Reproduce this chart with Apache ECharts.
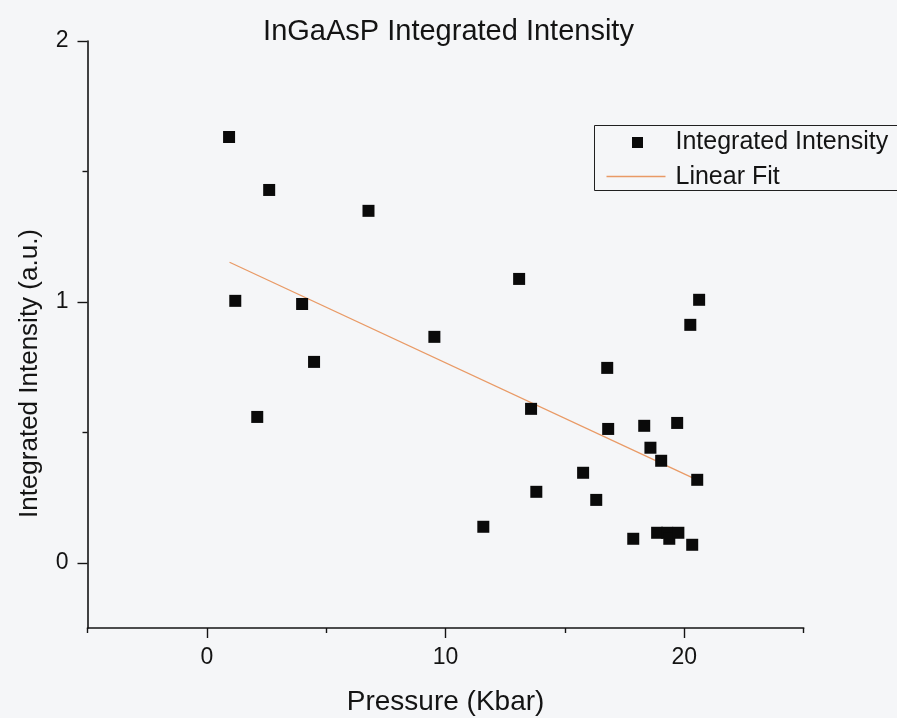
<!DOCTYPE html>
<html>
<head>
<meta charset="utf-8">
<title>InGaAsP Integrated Intensity</title>
<script src="https://cdn.jsdelivr.net/npm/echarts@6/dist/echarts.min.js"></script>
<style>
  html, body { margin: 0; padding: 0; background: #f5f6f8; }
  #chart { width: 897px; height: 718px; }
</style>
</head>
<body>
<div id="chart"></div>
<script>
// Measured integrated intensity versus applied pressure
const pressure = [
  0.93, 1.19, 2.11, 2.61, 3.99, 4.49, 6.77, 9.53, 11.58, 13.08,
  13.58, 13.80, 15.76, 16.31, 16.77, 16.81, 17.86, 18.32, 18.58, 19.03,
  19.70, 20.25, 20.62, 20.54, 20.33, 18.86, 19.28, 19.37, 19.75
];
const intensity = [
  1.632, 1.004, 0.559, 1.429, 0.992, 0.770, 1.349, 0.866, 0.138, 1.088,
  0.590, 0.272, 0.345, 0.241, 0.747, 0.513, 0.092, 0.525, 0.441, 0.391,
  0.536, 0.912, 1.008, 0.318, 0.069, 0.115, 0.115, 0.092, 0.115
];

// Endpoints of the linear fit over the measured pressure range
const fitPressure = [0.95, 20.6];
const fitIntensity = [1.152, 0.315];

// Axis ticks
const xMajorTicks = [0, 10, 20];
const xMinorTicks = [-5, 5, 15, 25];
const yMajorTicks = [0, 1, 2];
const yMinorTicks = [0.5, 1.5];

const FONT = "'Liberation Sans', Arial, Helvetica, sans-serif";
const INK = '#141414';
const FIT_COLOR = '#e99a66';

const gridBox = { left: 87.5, right: 93.3, top: 41, bottom: 90 };
const X_RANGE = { min: -5, max: 25 };
const Y_RANGE = { min: -0.25, max: 2 };

const chart = echarts.init(document.getElementById('chart'), null, { renderer: 'canvas' });

chart.setOption({
  animation: false,
  backgroundColor: '#f5f6f8',
  textStyle: { fontFamily: FONT, color: INK },
  title: {
    text: 'InGaAsP Integrated Intensity',
    left: 'center',
    top: 17,
    padding: 0,
    textStyle: { fontFamily: FONT, fontSize: 29, fontWeight: 'normal', color: INK }
  },
  grid: [
    Object.assign({ containLabel: false, outerBoundsMode: 'none' }, gridBox),
    Object.assign({ containLabel: false, outerBoundsMode: 'none' }, gridBox)
  ],
  xAxis: [
    {
      type: 'value',
      gridIndex: 0,
      min: X_RANGE.min,
      max: X_RANGE.max,
      name: 'Pressure (Kbar)',
      nameLocation: 'middle',
      nameGap: 60,
      nameTextStyle: { fontFamily: FONT, fontSize: 28, color: INK },
      splitLine: { show: false },
      axisLine: { show: true, onZero: false, lineStyle: { color: INK, width: 1.6 } },
      axisTick: { show: true, length: 10, customValues: xMajorTicks, lineStyle: { color: INK, width: 1.4 } },
      axisLabel: { customValues: xMajorTicks, margin: 18, fontFamily: FONT, fontSize: 23, color: INK }
    },
    {
      // minor ticks along the pressure axis
      type: 'value',
      gridIndex: 1,
      position: 'bottom',
      min: X_RANGE.min,
      max: X_RANGE.max,
      splitLine: { show: false },
      axisLine: { show: false, onZero: false },
      axisTick: { show: true, length: 5, customValues: xMinorTicks, lineStyle: { color: INK, width: 1.4 } },
      axisLabel: { show: false }
    }
  ],
  yAxis: [
    {
      type: 'value',
      gridIndex: 0,
      min: Y_RANGE.min,
      max: Y_RANGE.max,
      name: 'Integrated Intensity (a.u.)',
      nameLocation: 'middle',
      nameGap: 45,
      nameTextStyle: { fontFamily: FONT, fontSize: 26, color: INK, padding: [0, 78, 0, 0] },
      splitLine: { show: false },
      axisLine: { show: true, onZero: false, lineStyle: { color: INK, width: 1.6 } },
      axisTick: { show: true, length: 10, customValues: yMajorTicks, lineStyle: { color: INK, width: 1.4 } },
      axisLabel: { customValues: yMajorTicks, margin: 19, fontFamily: FONT, fontSize: 23, color: INK }
    },
    {
      // minor ticks along the intensity axis
      type: 'value',
      gridIndex: 1,
      position: 'left',
      min: Y_RANGE.min,
      max: Y_RANGE.max,
      splitLine: { show: false },
      axisLine: { show: false, onZero: false },
      axisTick: { show: true, length: 5, customValues: yMinorTicks, lineStyle: { color: INK, width: 1.4 } },
      axisLabel: { show: false }
    }
  ],
  series: [
    {
      name: 'Integrated Intensity',
      type: 'scatter',
      xAxisIndex: 0,
      yAxisIndex: 0,
      symbol: 'rect',
      symbolSize: 12,
      itemStyle: { color: '#0a0a0a', opacity: 1 },
      data: pressure.map((p, i) => [p, intensity[i]]),
      z: 3
    },
    {
      name: 'Linear Fit',
      type: 'line',
      xAxisIndex: 0,
      yAxisIndex: 0,
      showSymbol: false,
      symbol: 'none',
      lineStyle: { color: FIT_COLOR, width: 1.3 },
      data: fitPressure.map((p, i) => [p, fitIntensity[i]]),
      z: 2
    }
  ],
  graphic: [
    {
      type: 'group',
      left: 594,
      top: 125,
      children: [
        {
          type: 'rect',
          shape: { x: 0, y: 0, width: 330, height: 65 },
          style: { fill: 'rgba(0,0,0,0)', stroke: '#202020', lineWidth: 1 }
        },
        {
          type: 'rect',
          shape: { x: 37.5, y: 11.5, width: 11, height: 11 },
          style: { fill: '#0a0a0a' }
        },
        {
          type: 'line',
          shape: { x1: 12, y1: 51, x2: 71, y2: 51 },
          style: { stroke: FIT_COLOR, lineWidth: 1.3 }
        },
        {
          type: 'text',
          style: {
            text: 'Integrated Intensity', x: 81, y: 17,
            fontFamily: FONT, fontSize: 25, fill: INK,
            textAlign: 'left', textVerticalAlign: 'middle'
          }
        },
        {
          type: 'text',
          style: {
            text: 'Linear Fit', x: 81, y: 52,
            fontFamily: FONT, fontSize: 25, fill: INK,
            textAlign: 'left', textVerticalAlign: 'middle'
          }
        }
      ]
    }
  ]
});
</script>
</body>
</html>
